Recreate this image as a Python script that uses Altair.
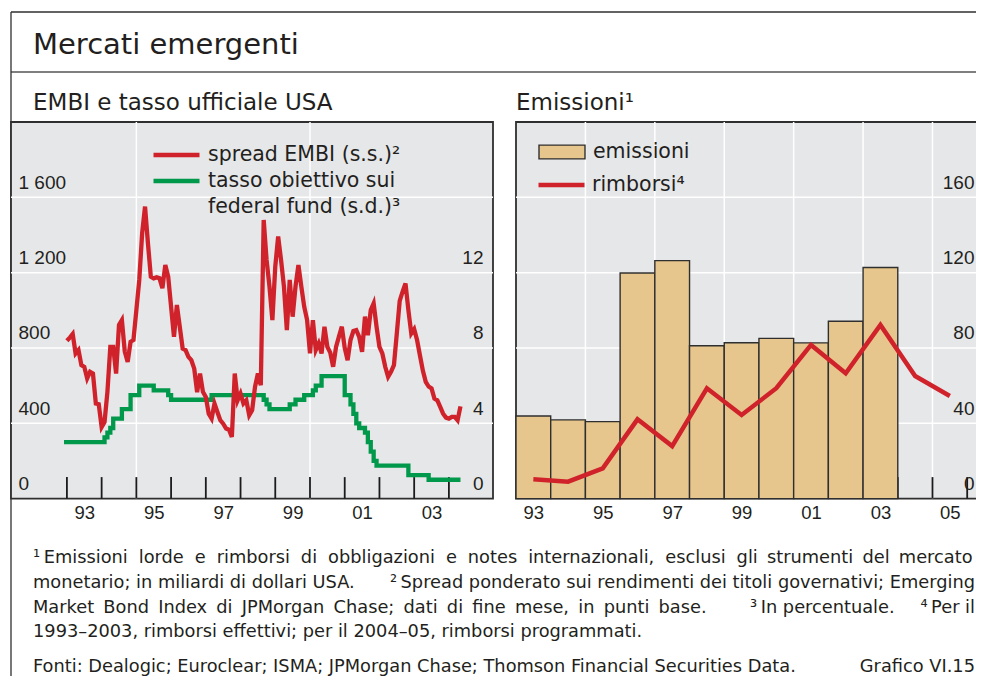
import altair as alt
import pandas as pd

# ---------------- data ----------------
# EMBI spread, monthly, Jan 1993 - May 2004 (basis points)
embi_spread = [
    838, 855, 874, 771, 789, 709, 700, 638, 673, 664, 505, 501,
    380, 407, 567, 806, 806, 664, 922, 948, 780, 726, 833, 842,
    1001, 1161, 1409, 1551, 1356, 1179, 1170, 1175, 1170, 1117, 1241, 1179,
    1019, 859, 1028, 913, 797, 789, 753, 735, 690, 565, 664, 567,
    540, 451, 425, 505, 460, 416, 398, 372, 366, 327, 664, 522,
    558, 505, 522, 443, 469, 593, 664, 602, 1480, 1267, 1126, 948,
    1232, 1392, 1267, 1126, 895, 1161, 966, 1126, 1241, 1126, 1019, 948,
    771, 948, 789, 824, 771, 913, 806, 775, 700, 806, 860, 913,
    800, 735, 842, 890, 895, 859, 780, 966, 868, 1001, 1037, 913,
    806, 771, 700, 647, 673, 709, 877, 1050, 1099, 1143, 1001, 877,
    900, 842, 760, 680, 620, 595, 585, 531, 522, 487, 451, 430,
    425, 434, 434, 416, 490,
]
embi_first_year = 1993

# Fed funds target rate, monthly, Dec 1992 - May 2004 (%)
fed_rate = (
    [3.00]
    + [3.00] * 12
    + [3.00, 3.25, 3.50, 3.75, 4.25, 4.25, 4.25, 4.75, 4.75, 4.75, 5.50, 5.50]
    + [5.50, 6.00, 6.00, 6.00, 6.00, 6.00, 5.75, 5.75, 5.75, 5.75, 5.75, 5.50]
    + [5.25] * 12
    + [5.25, 5.25] + [5.50] * 10
    + [5.50] * 8 + [5.25, 5.00, 4.75, 4.75]
    + [4.75] * 5 + [5.00, 5.00, 5.25, 5.25, 5.25, 5.50, 5.50]
    + [5.50, 5.75, 6.00, 6.00] + [6.50] * 8
    + [5.50, 5.50, 5.00, 4.50, 4.00, 3.75, 3.75, 3.50, 3.00, 2.50, 2.00, 1.75]
    + [1.75] * 10 + [1.25, 1.25]
    + [1.25] * 5 + [1.00] * 7
    + [1.00] * 5
)
fed_first_month = 1992 + 11 / 12

bar_years = list(range(1993, 2004))
emissioni = [43.9, 41.8, 40.9, 119.8, 126.4, 81.2, 82.8, 85.1, 82.7, 94.2, 122.7]

rimb_years = list(range(1993, 2006))
rimborsi = [10.3, 9.0, 16.1, 42.1, 27.9, 58.6, 44.4, 58.6, 81.6, 66.6, 92.2, 65.1, 54.5]

left_ticks_years = list(range(1993, 2005))
right_ticks_years = list(range(1994, 2007))
left_vgrid_years = [1995, 2000]
right_vgrid_years = [1995, 1997, 1999, 2001, 2003, 2005]
left_hgrid = [400, 800, 1200, 1600]
right_hgrid = [40, 80, 120, 160]
left_label_years = [1993.5, 1995.5, 1997.5, 1999.5, 2001.5, 2003.5]
right_label_years = [1993.5, 1995.5, 1997.5, 1999.5, 2001.5, 2003.5, 2005.5]
embi_ticks = [0, 400, 800, 1200, 1600]
fed_ticks = [0, 4, 8, 12]
emi_ticks = [0, 40, 80, 120, 160]

S_EMBI = "spread EMBI (s.s.)²"
S_FED = "tasso obiettivo sui"
S_FED2 = "federal fund (s.d.)³"
S_EMI = "emissioni"
S_RIM = "rimborsi⁴"

TITLE = "Mercati emergenti"
SUB_L = "EMBI e tasso ufficiale USA"
SUB_R = "Emissioni¹"
G1 = " \u2009\u200a"
G3 = " \u2009"
_w1 = "¹\u2009Emissioni lorde e rimborsi di obbligazioni e notes internazionali, esclusi gli strumenti del mercato".split(" ")
NOTE1 = G1.join(_w1[:-3]) + G3 + G3.join(_w1[-3:])
NOTE2A = "monetario; in miliardi di dollari USA."
NOTE2B = "²\u2009Spread ponderato sui rendimenti dei titoli governativi; Emerging"
NOTE3A = G3.join("Market Bond Index di JPMorgan Chase; dati di fine mese, in punti base.".split(" "))
NOTE3B = "³\u2009In percentuale."
NOTE3C = "⁴\u2009Per il"
NOTE4 = "1993–2003, rimborsi effettivi; per il 2004–05, rimborsi programmati."
NOTE5 = "Fonti: Dealogic; Euroclear; ISMA; JPMorgan Chase; Thomson Financial Securities Data."
GRAF = "Grafico VI.15"

# ---------------- styles / layout ----------------
RED = "#d0222b"
GREEN = "#00984a"
TAN = "#e6c68c"
BG = "#e6e7e9"
FRAME = "#2f2f2f"
TXT = "#231f20"
FONT = "DejaVu Sans"
NUMFONT = "Liberation Sans"
W, HH = 965, 664
LX0, LX1 = 0, 482          # left panel, px
RX0, RX1 = 505, 985        # right panel, px (runs past the right edge)
PY0, PY1 = 110, 486.6      # panels top / bottom, px
XOFF = PY1 - HH            # bottom axes moved up to the panels
RE = 964                   # right edge of the notes

embi_df = pd.DataFrame({
    "t": [embi_first_year + i / 12 for i in range(len(embi_spread))],
    "v": embi_spread, "serie": S_EMBI})
fed_df = pd.DataFrame({
    "t": [fed_first_month + i / 12 for i in range(len(fed_rate))],
    "v": fed_rate, "serie": S_FED})
bars_df = pd.DataFrame({"anno": bar_years, "val": emissioni, "tipo": S_EMI})
rimb_df = pd.DataFrame({"anno": rimb_years, "val": rimborsi, "voce": S_RIM})
one = pd.DataFrame({"k": [0]})

xL = alt.Scale(domain=[1991.39, 2005.27], range=[LX0, LX1], nice=False, zero=False)
xR = alt.Scale(domain=[1993, 2006.83], range=[RX0, RX1], nice=False, zero=False)
yE = alt.Scale(domain=[0, 2000], range=[PY1, PY0], nice=False, zero=True)
yF = alt.Scale(domain=[0, 20], range=[PY1, PY0], nice=False, zero=True)
yR = alt.Scale(domain=[0, 200], range=[PY1, PY0], nice=False, zero=True)


def x_axis(vals):
    return alt.Axis(orient="bottom", offset=XOFF, values=vals,
                    labelExpr="substring(toString(floor(datum.value)), 2)",
                    grid=False, domain=False, ticks=False, tickSize=0, labelPadding=19.5,
                    labelBaseline="alphabetic", labelFont=NUMFONT, labelFontSize=18.5,
                    labelColor=TXT, labelFlush=False, labelOverlap=False, title=None, zindex=2)


def y_axis(orient, offset, vals, expr=None, pad=None):
    kw = dict(orient=orient, offset=offset, values=vals, grid=False, domain=False,
              ticks=False, tickSize=0,
              labelAlign="left" if orient == "left" else "right",
              labelPadding=pad if pad is not None else (-7 if orient == "left" else -10),
              labelOffset=-9, labelBaseline="alphabetic", labelFont=NUMFONT,
              labelFontSize=19, labelColor=TXT, labelOverlap=False, title=None, zindex=2)
    if expr:
        kw.update(labelExpr=expr)
    return alt.Axis(**kw)


# ---------------- frame, titles, notes ----------------
def txt(s, x, y, size, align="left"):
    return alt.Chart(one).mark_text(text=s, align=align, baseline="alphabetic", font=FONT,
                                    fontSize=size, color=TXT).encode(x=alt.value(x), y=alt.value(y))


def hrule(y, color=FRAME, w=1.3):
    return alt.Chart(one).mark_rule(color=color, strokeWidth=w).encode(
        x=alt.value(0), x2=alt.value(W), y=alt.value(y))


def panel_bg(x0, x1):
    return alt.Chart(one).mark_rect(fill=BG, stroke=FRAME, strokeWidth=1.8).encode(
        x=alt.value(x0), x2=alt.value(x1), y=alt.value(PY0), y2=alt.value(PY1))


frame = [
    hrule(0), hrule(60, "#555555", 1.4),
    alt.Chart(one).mark_rule(color=FRAME, strokeWidth=1.3).encode(
        x=alt.value(0), y=alt.value(0), y2=alt.value(HH)),
    txt(TITLE, 22, 42, 29), txt(SUB_L, 22, 98, 23), txt(SUB_R, RX0, 98, 23),
]
FN = 17.8
notes = [
    txt(NOTE1, 22, 551, FN), txt(NOTE2A, 22, 576, FN), txt(NOTE2B, RE, 576, FN, "right"),
    txt(NOTE3A, 22, 601, FN), txt(NOTE3B, 739, 601, FN), txt(NOTE3C, RE, 601, FN, "right"),
    txt(NOTE4, 22, 625, FN), txt(NOTE5, 22, 660, FN), txt(GRAF, RE, 660, FN, "right"),
]

# ---------------- left panel ----------------
vgrid1 = alt.Chart(pd.DataFrame({"yr": left_vgrid_years})).mark_rule(
    color="white", strokeWidth=1.5).encode(
    x=alt.X("yr:Q", scale=xL, axis=None), y=alt.value(PY0), y2=alt.value(PY1))
hgrid1 = alt.Chart(pd.DataFrame({"v": left_hgrid})).mark_rule(
    color="white", strokeWidth=1.5).encode(
    y=alt.Y("v:Q", scale=yE, axis=None), x=alt.value(LX0), x2=alt.value(LX1))
ticks1 = alt.Chart(pd.DataFrame({"yr": left_ticks_years})).mark_rule(
    color="#1b1b1b", strokeWidth=1.8).encode(
    x=alt.X("yr:Q", scale=xL, axis=None), y=alt.value(PY1 - 21.5), y2=alt.value(PY1))

leg1 = alt.Legend(title=None, orient="none", legendX=140, legendY=130, direction="vertical",
                  symbolType="stroke", symbolSize=2116, symbolStrokeWidth=4.5,
                  labelFont=FONT, labelFontSize=20.5, labelColor=TXT, labelOffset=6,
                  clipHeight=26, rowPadding=0, padding=0, labelLimit=400, zindex=3)
color1 = alt.Color("serie:N", scale=alt.Scale(domain=[S_EMBI, S_FED, S_FED2],
                                              range=[RED, GREEN, "transparent"]), legend=leg1)

fed_line = alt.Chart(fed_df).mark_line(interpolate="step-after", strokeWidth=4.3).encode(
    x=alt.X("t:Q", scale=xL, axis=None),
    y=alt.Y("v:Q", scale=yF, axis=y_axis("right", LX1 - W, fed_ticks)),
    color=color1)
embi_line = alt.Chart(embi_df).mark_line(strokeWidth=4.3).encode(
    x=alt.X("t:Q", scale=xL, axis=x_axis(left_label_years)),
    y=alt.Y("v:Q", scale=yE, axis=y_axis(
        "left", 0, embi_ticks,
        "datum.value >= 1000 ? replace(format(datum.value, ','), ',', ' ') : datum.label")),
    color=color1)

# ---------------- right panel ----------------
vgrid2 = alt.Chart(pd.DataFrame({"yr": right_vgrid_years})).mark_rule(
    color="white", strokeWidth=1.5).encode(
    x=alt.X("yr:Q", scale=xR, axis=None), y=alt.value(PY0), y2=alt.value(PY1))
hgrid2 = alt.Chart(pd.DataFrame({"v": right_hgrid})).mark_rule(
    color="white", strokeWidth=1.5).encode(
    y=alt.Y("v:Q", scale=yR, axis=None), x=alt.value(RX0), x2=alt.value(RX1))
ticks2 = alt.Chart(pd.DataFrame({"yr": right_ticks_years})).mark_rule(
    color="#1b1b1b", strokeWidth=1.8).encode(
    x=alt.X("yr:Q", scale=xR, axis=None), y=alt.value(PY1 - 21.5), y2=alt.value(PY1))

leg_bar = alt.Legend(title=None, orient="none", legendX=527, legendY=127, direction="vertical",
                     symbolType="M-1,-0.3L1,-0.3L1,0.3L-1,0.3Z", symbolSize=2116,
                     symbolStrokeColor=FRAME, symbolStrokeWidth=1.4, symbolOpacity=1,
                     labelFont=FONT, labelFontSize=20.5, labelColor=TXT, labelOffset=7,
                     clipHeight=26, rowPadding=0, padding=0, zindex=3)
leg_line = alt.Legend(title=None, orient="none", legendX=525, legendY=160, direction="vertical",
                      symbolType="stroke", symbolSize=2116, symbolStrokeWidth=4.5,
                      labelFont=FONT, labelFontSize=20.5, labelColor=TXT, labelOffset=5,
                      clipHeight=26, rowPadding=0, padding=0, zindex=3)

bars = alt.Chart(bars_df).transform_calculate(fine="datum.anno + 1").mark_bar(
    stroke=FRAME, strokeWidth=1.4, opacity=1).encode(
    x=alt.X("anno:Q", scale=xR, axis=x_axis(right_label_years)), x2="fine:Q",
    y=alt.Y("val:Q", scale=yR, axis=y_axis("right", RX1 - W, emi_ticks, pad=-(RX1 - W + 2))),
    y2=alt.datum(0),
    fill=alt.Fill("tipo:N", scale=alt.Scale(domain=[S_EMI], range=[TAN]), legend=leg_bar))
rimb_line = alt.Chart(rimb_df).transform_calculate(meta="datum.anno + 0.5").mark_line(
    strokeWidth=4.5).encode(
    x=alt.X("meta:Q", scale=xR, axis=None),
    y=alt.Y("val:Q", scale=yR, axis=None),
    stroke=alt.Stroke("voce:N", scale=alt.Scale(domain=[S_RIM], range=[RED]), legend=leg_line))

chart = alt.layer(
    *frame, panel_bg(LX0, LX1), panel_bg(RX0, RX1),
    vgrid1, hgrid1, ticks1, fed_line, embi_line,
    vgrid2, hgrid2, ticks2, bars, rimb_line,
    *notes,
).resolve_scale(x="independent", y="independent").properties(
    width=W, height=HH,
    autosize=alt.AutoSizeParams(type="none"),
    padding={"left": 3, "top": 4, "right": 0, "bottom": 0},
).configure(font=FONT, background="white").configure_view(stroke="transparent")

chart.save("out.html", embed_options={"renderer": "svg", "actions": False})
